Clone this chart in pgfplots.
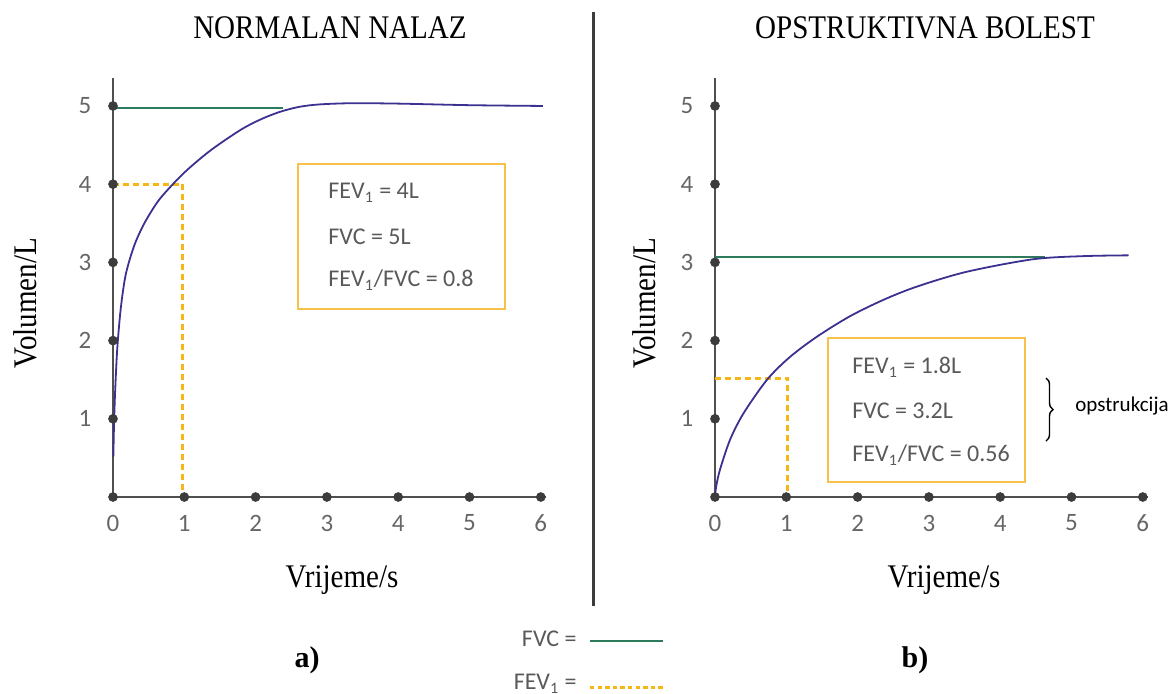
\documentclass[border=0pt]{standalone}
\usepackage{fontspec}
\setmainfont{Carlito}
\newfontfamily\serifc[FakeStretch=0.88]{Liberation Serif}
\newfontfamily\serifb{Liberation Serif}
\usepackage{pgfplots}
\pgfplotsset{compat=1.18}
\usetikzlibrary{decorations.pathreplacing}

\definecolor{axisgray}{HTML}{505050}
\definecolor{dotgray}{HTML}{3C3C3C}
\definecolor{ticktext}{HTML}{666666}
\definecolor{boxtext}{HTML}{595959}
\definecolor{curveblue}{HTML}{3B3190}
\definecolor{fvcgreen}{HTML}{2E7A5C}
\definecolor{fevyellow}{HTML}{F7B617}
\definecolor{boxyellow}{HTML}{F8C14A}

\pgfplotsset{
  spiro/.style={
    scale only axis, width=216.4pt, height=209.6pt,
    anchor=south west,
    xmin=0, xmax=6.07, ymin=0, ymax=5.36,
    axis x line=bottom, axis y line=left,
    axis line style={-, line width=1.2pt, color=axisgray},
    xtick={0,...,6}, ytick={1,...,5},
    major tick length=0pt,
    /pgf/number format/assume math mode=true,
    tick label style={font=\fontsize{12.5}{14}\selectfont, text=ticktext},
    xticklabel style={anchor=center, yshift=-13pt},
    yticklabel style={anchor=center, xshift=-14pt},
    clip=false,
  },
  dots/.style={only marks, mark=*, mark size=2.2pt, color=dotgray},
  fvc/.style={fvcgreen, line width=1pt},
  fev/.style={fevyellow, line width=1.5pt, dash pattern=on 3pt off 2pt},
  vol/.style={curveblue, line width=0.9pt, smooth, tension=0.5},
}

\begin{document}
\begin{tikzpicture}
\useasboundingbox (0,0) rectangle (587pt,-346.5pt);

% a) normal (origin at pixel 113,497; 1 px = 0.5pt)
\begin{axis}[spiro, at={(56.5pt,-248.5pt)}]
\addplot[fvc] coordinates {(0,4.97) (2.38,4.97)};
\addplot[fev] coordinates {(0,4) (0.98,4) (0.98,0)};
\addplot[vol] coordinates {
  (0.005,0.52) (0.015,0.95) (0.03,1.35) (0.06,1.9) (0.11,2.42) (0.18,2.85)
  (0.30,3.22) (0.44,3.5) (0.63,3.78) (0.84,4.0) (1.05,4.19) (1.38,4.44)
  (1.8,4.7) (2.1,4.84) (2.36,4.93) (2.62,4.99) (2.9,5.02) (3.35,5.035)
  (4.0,5.03) (5.0,5.01) (6.03,5.0)};
\addplot[dots] coordinates {(0,0) (1,0) (2,0) (3,0) (4,0) (5,0) (6,0)
  (0,1) (0,2) (0,3) (0,4) (0,5)};
\end{axis}

% b) obstructive (origin at pixel 715,497)
\begin{axis}[spiro, at={(357.5pt,-248.5pt)}]
\addplot[fvc] coordinates {(0,3.07) (4.63,3.07)};
\addplot[fev] coordinates {(0,1.52) (1.02,1.52) (1.02,0)};
\addplot[vol] coordinates {
  (0,0.02) (0.02,0.15) (0.07,0.35) (0.21,0.73) (0.40,1.07) (0.73,1.5)
  (1.05,1.79) (1.43,2.05) (1.89,2.31) (2.36,2.52) (2.83,2.69) (3.53,2.88)
  (4.46,3.04) (5.17,3.08) (5.8,3.09)};
\addplot[dots] coordinates {(0,0) (1,0) (2,0) (3,0) (4,0) (5,0) (6,0)
  (0,1) (0,2) (0,3) (0,4) (0,5)};
\end{axis}

\begin{scope}[x=0.5pt, y=-0.5pt]
% titles, axis labels
\begin{scope}[every node/.style={font=\serifc\fontsize{16.5}{18}\selectfont, inner sep=0pt}]
\node at (330,28) {NORMALAN NALAZ};
\node at (925,28) {OPSTRUKTIVNA BOLEST};
\node[rotate=90] at (25,303) {Volumen/L};
\node[rotate=90] at (644,303) {Volumen/L};
\node at (342,580) {Vrijeme/s};
\node at (944,580) {Vrijeme/s};
\end{scope}
\node[font=\serifb\bfseries\fontsize{15}{17}\selectfont] at (307,660) {a)};
\node[font=\serifb\bfseries\fontsize{15}{17}\selectfont] at (915,660) {b)};

% divider
\draw[line width=1.5pt, color=dotgray] (593,12) -- (593,606);

% value boxes
\draw[boxyellow, line width=1pt] (298,164) rectangle (505,309);
\draw[boxyellow, line width=1pt] (828,338) rectangle (1025,482);
\begin{scope}[every node/.style={font=\fontsize{12}{14}\selectfont, text=boxtext, anchor=west, inner sep=0pt}]
\node at (328,193) {FEV\textsubscript{1} = 4L};
\node at (328,237) {FVC = 5L};
\node at (328,280) {FEV\textsubscript{1}/FVC = 0.8};
\node at (852,367) {FEV\textsubscript{1} = 1.8L};
\node at (852,411) {FVC = 3.2L};
\node at (852,455) {FEV\textsubscript{1}/FVC = 0.56};
\end{scope}

% obstruction brace
\draw[decorate, decoration={brace, amplitude=3.5pt}, line width=0.7pt] (1046,378) -- (1046,441);
\node[font=\fontsize{10.5}{12}\selectfont] at (1122,406) {opstrukcija};

% legend
\node[anchor=east, font=\fontsize{12}{14}\selectfont, text=boxtext, inner sep=0pt] at (577,639) {FVC =};
\draw[fvcgreen, line width=1.3pt] (590,641) -- (663,641);
\node[anchor=east, font=\fontsize{12}{14}\selectfont, text=boxtext, inner sep=0pt] at (577,684) {FEV\textsubscript{1} =};
\draw[fevyellow, line width=1.5pt, dash pattern=on 2.2pt off 1.6pt] (590,687) -- (663,687);
\end{scope}
\end{tikzpicture}
\end{document}
